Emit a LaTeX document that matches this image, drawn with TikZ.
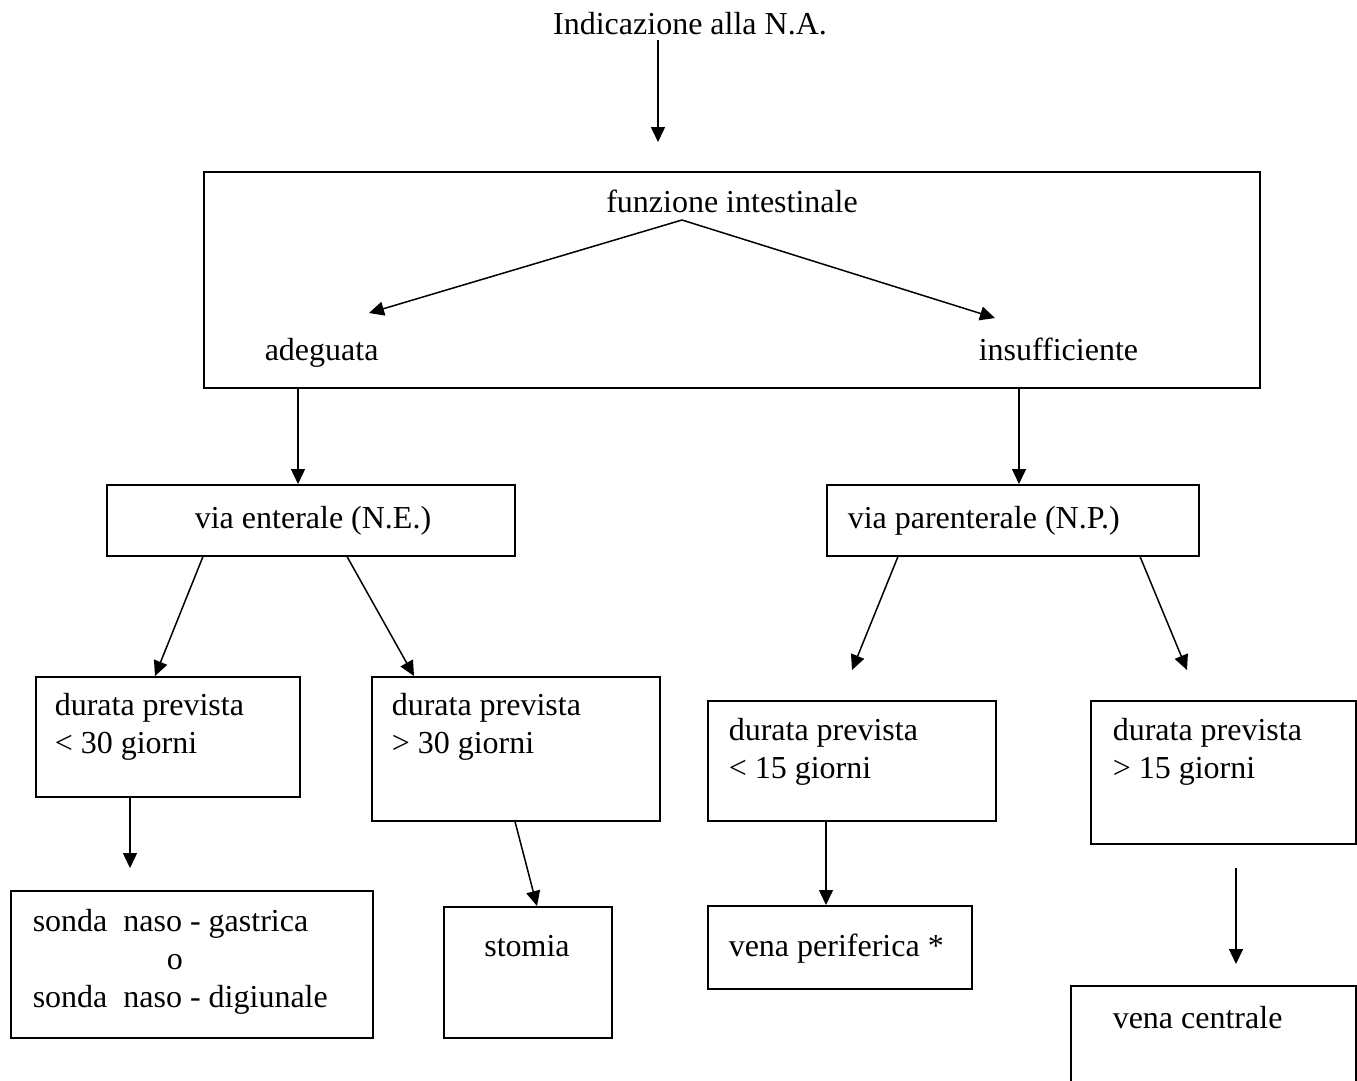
\documentclass[tikz,border=0pt]{standalone}
\usepackage{fontspec}
\setmainfont{Liberation Serif}
\usetikzlibrary{arrows.meta}
\begin{document}
\begin{tikzpicture}[x=1pt,y=-1pt,line width=1.5pt,
  box/.style={draw,anchor=north west,inner sep=0pt},
  txt/.style={anchor=base west,inner sep=0pt,align=left,font=\fontsize{32}{38}\selectfont},
  arr/.style={-{Triangle[length=15pt,width=14pt]}}]
\useasboundingbox (0,0) rectangle (1357,1080);
% boxes
\node[box,minimum width=1056pt,minimum height=216pt] (fbox) at (203,171) {};
\node[box,minimum width=408pt,minimum height=71pt] (ne) at (106,484) {};
\node[box,minimum width=372pt,minimum height=71pt] (np) at (826,484) {};
\node[box,minimum width=264pt,minimum height=120pt] (d30a) at (35,676) {};
\node[box,minimum width=288pt,minimum height=144pt] (d30b) at (371,676) {};
\node[box,minimum width=288pt,minimum height=120pt] (d15a) at (707,700) {};
\node[box,minimum width=265pt,minimum height=143pt] (d15b) at (1090,700) {};
\node[box,minimum width=362pt,minimum height=147pt] (sonda) at (10,890) {};
\node[box,minimum width=168pt,minimum height=131pt] (stom) at (443,906) {};
\node[box,minimum width=264pt,minimum height=83pt] (vper) at (707,905) {};
\node[box,minimum width=285pt,minimum height=120pt] (vcen) at (1070,985) {};
% texts (base = last line)
\node[txt,anchor=base] (title) at (690,34) {Indicazione alla N.A.};
\node[txt,anchor=base] (funz) at (732,212) {funzione intestinale};
\node[txt] (adeg) at (264,360) {adeguata};
\node[txt] (insuf) at (978,360) {insufficiente};
\node[txt,anchor=base] (tne) at (313,528) {via enterale (N.E.)};
\node[txt] (tnp) at (847,528) {via parenterale (N.P.)};
\node[txt] (t30a) at (54,753) {durata prevista\\< 30 giorni};
\node[txt] (t30b) at (391,753) {durata prevista\\> 30 giorni};
\node[txt] (t15a) at (728,778) {durata prevista\\< 15 giorni};
\node[txt] (t15b) at (1112,778) {durata prevista\\> 15 giorni};
\node[txt] (tsonda) at (32,1007) {sonda\ \ naso - gastrica\\\hspace*{134pt}o\\sonda\ \ naso - digiunale};
\node[txt,anchor=base] (tstom) at (527,956) {stomia};
\node[txt] (tvper) at (728,956) {vena periferica *};
\node[txt] (tvcen) at (1112,1028) {vena centrale};
% free ends
\coordinate (c0) at (658,142);
\coordinate (cad) at (369,313);
\coordinate (cin) at (995,318);
\coordinate (cpa) at (852,670);
\coordinate (cpb) at (1187,670);
\coordinate (csn) at (130,868);
\coordinate (cvs) at (1236,868);
\coordinate (cve) at (1236,964);
% arrows
\draw[arr] ([xshift=-32pt,yshift=-6pt]title.base) -- (c0);
\draw[arr] ([xshift=-50pt,yshift=-8pt]funz.base) -- (cad);
\draw[arr] ([xshift=-50pt,yshift=-8pt]funz.base) -- (cin);
\draw[arr] ([xshift=95pt]fbox.south west) -- ([xshift=192pt]ne.north west);
\draw[arr] ([xshift=816pt]fbox.south west) -- ([xshift=193pt]np.north west);
\draw[arr] ([xshift=97pt]ne.south west) -- ([xshift=120pt]d30a.north west);
\draw[arr] ([xshift=241pt]ne.south west) -- ([xshift=43pt]d30b.north west);
\draw[arr] ([xshift=72pt]np.south west) -- (cpa);
\draw[arr] ([xshift=314pt]np.south west) -- (cpb);
\draw[arr] ([xshift=95pt]d30a.south west) -- (csn);
\draw[arr] ([xshift=144pt]d30b.south west) -- ([xshift=94pt]stom.north west);
\draw[arr] ([xshift=119pt]d15a.south west) -- ([xshift=119pt]vper.north west);
\draw[arr] (cvs) -- (cve);
\end{tikzpicture}
\end{document}
